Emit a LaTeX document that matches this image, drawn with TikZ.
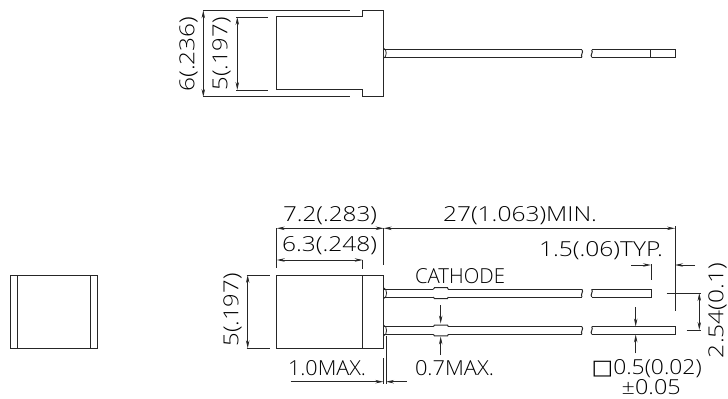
\documentclass[tikz,border=0pt]{standalone}
\usepackage{fontspec}
\usepackage{graphicx}
\setmainfont{Open Sans}[UprightFont={* Light}]
\newfontfamily\symfont{DejaVu Sans}
\usetikzlibrary{arrows.meta}
\newlength{\fitw}
\newcommand{\fit}[2]{\setlength{\fitw}{#1pt}\setlength{\fitw}{0.75\fitw}\resizebox{\fitw}{\height}{#2}}
\tikzset{
  x=0.75pt,y=-0.75pt,
  part/.style={line width=0.75pt,black!85},
  dim/.style={line width=0.6pt,black!85},
  dimarrow/.style={dim,-{Stealth[length=6pt,width=2.6pt]}},
  dimboth/.style={dim,{Stealth[length=6pt,width=2.6pt]}-{Stealth[length=6pt,width=2.6pt]}},
  lbl/.style={inner sep=0pt,outer sep=0pt,font=\fontsize{15.5pt}{17pt}\selectfont,text=black},
}
% break symbols: #1 x, #2 top y, #3 bottom y, #4 bulge
\newcommand{\brk}[4]{\draw[part] (#1,#2) .. controls (#1+#4,#2+2.5) and (#1-#4,#3-2.5) .. (#1,#3);}
\begin{document}
\begin{tikzpicture}
\useasboundingbox (0,0) rectangle (728,399);
% Left view
\draw[part] (10.7,275) rectangle (97.3,348);
\draw[part] (17.3,275) -- (17.3,348) (90.7,275) -- (90.7,348);
% Top view
\draw[part] (203,10.3) -- (350,10.3) (203,97) -- (350,97);
\draw[part] (276.7,17) -- (362.7,17) -- (362.7,10.3) -- (383.3,10.3) -- (383.3,97) -- (362.7,97) -- (362.7,90) -- (276.7,90) -- cycle;
\draw[dim] (236,17) -- (268,17) (236,90) -- (268,90);
\draw[dimboth] (203.3,10.3) -- (203.3,97);
\draw[dimboth] (237.3,17) -- (237.3,90);
\draw[dim] (383.3,48) .. controls (387.2,49) and (387.2,57) .. (383.3,58.5);
\draw[part] (383.3,50) -- (582,50) (383.3,57.3) -- (582,57.3);
\brk{582}{50}{57.3}{2}
\draw[part] (591.7,50) -- (675,50) -- (675,57.3) -- (591.7,57.3);
\brk{591.7}{50}{57.3}{2}
\draw[part] (650,50) -- (650,57.3);
\node[lbl,rotate=90] (t6) at (188.5,54) {\fit{75}{6(.236)}};
\node[lbl,rotate=90] (t5) at (221.5,54) {\fit{73}{5(.197)}};
% Bottom view body
\draw[part] (276.7,275) rectangle (383.7,348.3);
\draw[part] (362.7,275) -- (362.7,348.3);
% Leads
\foreach \ya/\yb/\xe in {289.3/297/651.3,326.7/334.3/675.3}{
  \draw[part] (383.7,\ya) -- (433.3,\ya) (383.7,\yb) -- (433.3,\yb);
  \draw[part] (433.3,\ya) -- (434.5,\ya-1.6) -- (447.5,\ya-1.6) -- (448.3,\ya);
  \draw[part] (433.3,\yb) -- (434.5,\yb+1.6) -- (447.5,\yb+1.6) -- (448.3,\yb);
  \draw[part] (448.3,\ya) -- (582,\ya) (448.3,\yb) -- (582,\yb);
  \brk{582}{\ya}{\yb}{2}
  \draw[part] (591.7,\ya) -- (\xe,\ya) -- (\xe,\yb) -- (591.7,\yb);
  \brk{591.7}{\ya}{\yb}{2}
  \draw[dim] (383.7,\ya-1.5) .. controls (387.5,\ya-0.5) and (387.5,\yb+0.5) .. (383.7,\yb+1.5);
}
% Dimensions
\draw[dim] (276.7,228.3) -- (276.7,268) (383.7,228.3) -- (383.7,265) (362.7,260) -- (362.7,269);
\draw[dimboth] (276.7,228.3) -- (383.7,228.3);
\draw[dimboth] (276.7,260) -- (362.7,260);
\draw[dimboth] (383.7,228.3) -- (675,228.3);
\draw[dim] (675,226) -- (675,311);
\draw[dim] (246.7,275) -- (270,275) (246.7,348.3) -- (270,348.3);
\draw[dimboth] (247.7,275) -- (247.7,348.3);
\draw[dim] (383.3,358) -- (383.3,384) (386,336) -- (386,384);
\draw[dimarrow] (290.7,381.7) -- (383.3,381.7);
\draw[dimarrow] (406.7,381.7) -- (386,381.7);
\draw[dimarrow] (440.7,305) -- (440.7,323.5);
\draw[dimarrow] (440.7,355) -- (440.7,336.5);
\draw[dimarrow] (631.3,265) -- (651,265);
\draw[dim] (651,264) -- (651,280);
\draw[dimarrow] (695,265) -- (675,265);
\draw[dim] (666.7,293) -- (700.7,293) (686.7,330) -- (700.7,330);
\draw[dimboth] (699.3,293) -- (699.3,330);
\draw[dimarrow] (635.7,307.3) -- (635.7,326.5);
\draw[dimarrow] (635.7,353.3) -- (635.7,334.5);
% Labels
\node[lbl] (a) at (330,215.5) {\fit{94}{7.2(.283)}};
\node[lbl] (b) at (329.5,245.5) {\fit{95}{6.3(.248)}};
\node[lbl] (c) at (520,215.5) {\fit{154}{27(1.063)MIN.}};
\node[lbl] (d) at (601,250.5) {\fit{124}{1.5(.06)TYP.}};
\node[lbl] (e) at (460,276.5) {\fit{90}{CATHODE}};
\node[lbl,rotate=90] (f) at (232.5,310) {\fit{73}{5(.197)}};
\node[lbl] (g) at (327,368.5) {\fit{78}{1.0MAX.}};
\node[lbl] (h) at (454.5,368.5) {\fit{79}{0.7MAX.}};
\node[lbl,rotate=90] (i) at (717.5,310.5) {\fit{95}{2.54(0.1)}};
\node[lbl] (j) at (646.7,368.5) {\fit{110}{{\symfont □}0.5(0.02)}};
\node[lbl] (k) at (651.2,387.5) {\fit{59}{±0.05}};
\end{tikzpicture}
\end{document}
